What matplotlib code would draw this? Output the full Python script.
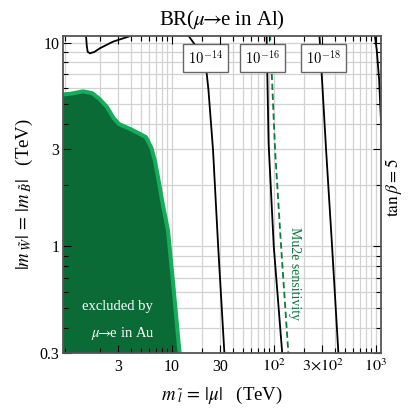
import matplotlib
matplotlib.use("Agg")
import matplotlib.pyplot as plt
from matplotlib.ticker import FixedLocator, FixedFormatter, LogLocator, NullFormatter

# excluded region (mu->e in Au), boundary in (m_slepton, m_gaugino) TeV
excl_m = [0.80, 1.05, 1.35, 1.65, 1.94, 2.32, 2.69, 3.04, 3.90, 4.89, 5.60,
          6.34, 6.86, 7.34, 8.03, 9.20, 10.5, 12.0]
excl_M = [5.54, 5.62, 5.76, 5.65, 5.31, 4.82, 4.26, 3.98, 3.77, 3.56, 3.43,
          3.03, 2.61, 2.18, 1.68, 1.19, 0.60, 0.29]

# BR(mu->e in Al) contours
br12_m = [1.44, 1.47, 1.50, 1.58, 1.75, 1.98, 2.66, 3.9, 4.2]
br12_M = [11.0, 9.6, 9.0, 8.85, 9.0, 9.38, 10.1, 10.75, 11.0]
br14_m = [14.2, 16.9, 20.3, 22.0, 22.9, 25.4, 28.5, 32.8]
br14_M = [11.0, 9.74, 8.2, 7.07, 5.85, 2.96, 1.0, 0.3]
br16_m = [85, 89, 100, 121]
br16_M = [11.0, 3.2, 1.0, 0.3]
br18_m = [280, 326, 373, 430]
br18_M = [11.0, 2.96, 1.0, 0.3]
br20_m = [975, 1022, 1078, 1127, 1180]
br20_M = [11.0, 9.2, 6.6, 4.03, 3.0]
mu2e_m = [92, 103, 118, 139]
mu2e_M = [11.0, 2.96, 1.0, 0.3]

xticks = [3, 10, 30, 100, 300, 1000]
xticklabels = ['3', '10', '30', r'$10^2$', r'$3{\times}10^2$', r'$10^3$']
yticks = [0.3, 1, 3, 10]
yticklabels = ['0.3', '1', '3', '10']

plt.rcParams['font.family'] = ['Liberation Serif', 'DejaVu Serif']
plt.rcParams['mathtext.fontset'] = 'stix'

dark = '#0a6b37'
light = '#16ad5a'
gridc = '#d2d2d2'
arrow = r'$\mu\!\!\rightarrow\!\!$e'

fig = plt.figure(figsize=(4.13, 4.08), dpi=100)
pos = [0.1533, 0.1348, 0.7692, 0.7777]
ax = fig.add_axes(pos)
ax.set_xscale('log')
ax.set_yscale('log')
ax.set_xlim(0.865, 1125)
ax.set_ylim(0.3, 10.8)
ax.set_axisbelow(True)

ax.xaxis.set_major_locator(FixedLocator(xticks))
ax.xaxis.set_minor_locator(LogLocator(base=10, subs=range(2, 10)))
ax.yaxis.set_major_locator(FixedLocator(yticks))
ax.yaxis.set_minor_locator(LogLocator(base=10, subs=range(2, 10)))
ax.grid(True, which='both', color=gridc, lw=0.9)
ax.tick_params(which='both', length=0, labelbottom=False, labelleft=False)
for s in ax.spines.values():
    s.set_visible(False)

# excluded region
ax.fill_between(excl_m, 0.01, excl_M, color=dark, lw=0, zorder=1)
ax.plot(excl_m, excl_M, color=light, lw=2.9, zorder=1.2, solid_capstyle='butt')

for m, M in [(br12_m, br12_M), (br14_m, br14_M), (br16_m, br16_M),
             (br18_m, br18_M), (br20_m, br20_M)]:
    ax.plot(m, M, color='black', lw=1.3, zorder=2)
ax.plot(mu2e_m, mu2e_M, color='#0b7a3e', lw=1.3, ls=(0, (3.5, 2)), zorder=2)

box = dict(boxstyle='square,pad=0.36', fc='white', ec='#666666', lw=1.0)
for xx, lab in [(21.4, r'$10^{-14}$'), (77.6, r'$10^{-16}$'), (309, r'$10^{-18}$')]:
    ax.text(xx, 8.38, lab, ha='center', va='center', fontsize=10.5,
            math_fontfamily='cm', bbox=box, zorder=3)

ax.text(158, 0.733, 'Mu2e sensitivity', rotation=-90, ha='center', va='center',
        color='#0b7a3e', fontsize=10, zorder=3)
ax.text(2.94, 0.51, 'excluded by', ha='center', va='center', color='white',
        fontsize=10.5, zorder=3)
ax.text(3.30, 0.372, arrow + ' in Au', ha='center', va='center', color='white',
        fontsize=10.5, zorder=3)

# overlay axes for ticks and frame on top of the filled region
ax2 = fig.add_axes(pos, sharex=ax, sharey=ax)
ax2.patch.set_visible(False)
ax2.xaxis.set_major_formatter(FixedFormatter(xticklabels))
ax2.yaxis.set_major_formatter(FixedFormatter(yticklabels))
ax2.xaxis.set_minor_formatter(NullFormatter())
ax2.yaxis.set_minor_formatter(NullFormatter())
ax2.tick_params(which='both', direction='in', top=True, right=True,
                labelsize=11.5, color='black', width=0.8)
ax2.tick_params(which='major', length=6, pad=4)
ax2.tick_params(which='minor', length=3.5)
ax2.tick_params(axis='y', which='major', pad=3)
for s in ax2.spines.values():
    s.set_color('#555555')
    s.set_linewidth(1.3)

ax2.set_xlabel(r'$m_{\;\tilde{l}} \,=\, |\mu|$   (TeV)', fontsize=13.5, labelpad=7)
ax2.set_ylabel(r'$|m_{\;\tilde{W}}| \,=\, |m_{\;\tilde{B}}|$   (TeV)', fontsize=13.5,
               labelpad=3)
ax2.set_title('BR(' + arrow + ' in Al)', fontsize=15, pad=7)

fig.text(0.953, 0.54, r'$\tan\beta = 5$', rotation=90, ha='center', va='center',
         fontsize=12.5)

fig.savefig('out.png', dpi=100)
